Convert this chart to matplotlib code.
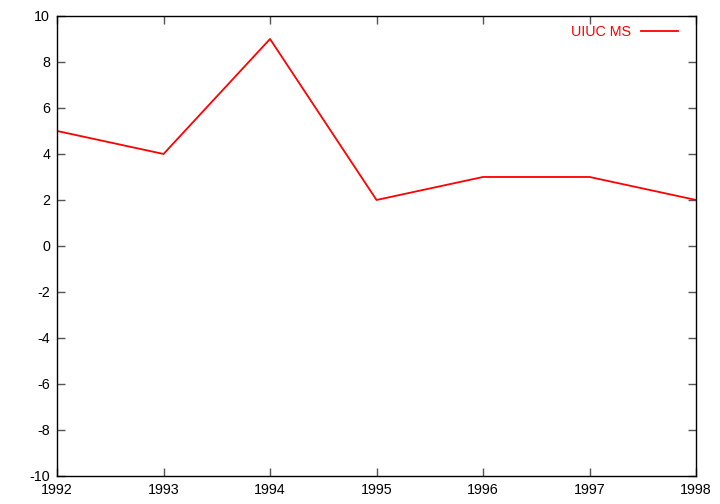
import matplotlib
matplotlib.use("Agg")
import matplotlib.pyplot as plt

years = [1992, 1993, 1994, 1995, 1996, 1997, 1998]
uiuc_ms = [5, 4, 9, 2, 3, 3, 2]
y_ticks = list(range(-10, 11, 2))

plt.rcParams['font.family'] = ['Liberation Sans', 'DejaVu Sans']
plt.rcParams['axes.unicode_minus'] = False

fig = plt.figure(figsize=(7.2, 5.04), dpi=100)
ax = fig.add_axes([0.0792, 0.0556, 0.8875, 0.9127])

ax.plot(years, uiuc_ms, color='#ff0000', lw=1.3, label='UIUC MS')

ax.set_xlim(1992, 1998)
ax.set_ylim(-10, 10)
ax.set_xticks(years)
ax.set_yticks(y_ticks)
ax.tick_params(direction='in', length=6, width=1, color='#555555',
               top=True, right=True, labelsize=10.3, pad=5)
for s in ax.spines.values():
    s.set_linewidth(1)

# legend in gnuplot style: label left of the line sample
leg = ax.legend(loc='upper right', bbox_to_anchor=(0.988, 1.003), frameon=False,
                fontsize=10.3, markerfirst=False,
                handlelength=2.6, borderaxespad=0.3, handletextpad=0.7)
for t in leg.get_texts():
    t.set_color('#ff0000')

fig.savefig('out.png', dpi=100)
